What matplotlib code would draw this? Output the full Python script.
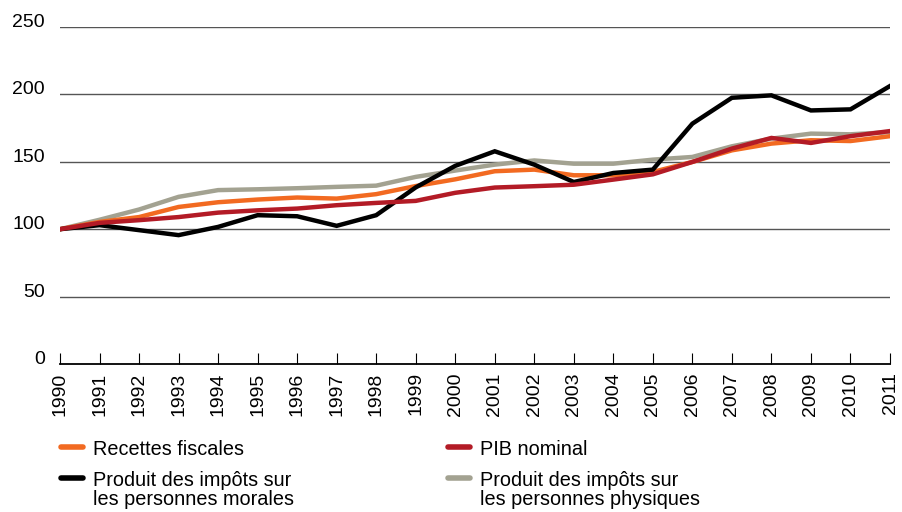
import matplotlib
matplotlib.use("Agg")
from matplotlib import pyplot as plt
from matplotlib.lines import Line2D

plt.rcParams['font.family'] = ['Liberation Sans', 'DejaVu Sans']

years = list(range(1990, 2012))
recettes = [100, 105.4, 109, 116.5, 120, 122, 123.5, 122.7, 126, 132, 137,
            143, 144.2, 140, 140, 142.5, 149.9, 158.5, 163.5, 166, 165.4, 169]
pib = [100, 104.7, 106.7, 109, 112.3, 114, 115.3, 117.8, 119.5, 121, 127,
       130.9, 131.9, 133, 136.8, 140.7, 149.9, 159.8, 167.7, 164, 169, 172.8]
morales = [100, 103, 99.3, 95.6, 101.7, 110.4, 109.6, 102.5, 110.4, 131, 147,
           157.8, 147.9, 135, 141.7, 144.2, 178.3, 197.5, 199.3, 188.1, 188.9, 206.2]
physiques = [100, 107, 114.6, 124, 129, 129.6, 130.4, 131.4, 132.3, 138.8, 143.5,
             147.9, 151, 148.6, 148.6, 151.6, 153.6, 161.5, 167.2, 170.9, 170.4, 172]
yticks = [0, 50, 100, 150, 200, 250]

c_orange = '#F26A21'
c_red = '#B31B26'
c_black = '#000000'
c_grey = '#A3A291'

fig = plt.figure(figsize=(9.02, 5.12), dpi=100)
ax = fig.add_axes([60 / 902, 1 - 364 / 512, 830 / 902, 337 / 512])

lw = 3.2
ax.plot(years, physiques, color=c_grey, lw=lw, solid_joinstyle='miter', zorder=3)
ax.plot(years, recettes, color=c_orange, lw=lw, solid_joinstyle='miter', zorder=4)
ax.plot(years, morales, color=c_black, lw=lw, solid_joinstyle='miter', zorder=5)
ax.plot(years, pib, color=c_red, lw=lw, solid_joinstyle='miter', zorder=6)

ax.set_xlim(1990, 2011)
ax.set_ylim(0, 250)
for v in yticks[1:]:
    ax.axhline(v, color='#555555', lw=1.0, zorder=1)
for s in ['top', 'right', 'left']:
    ax.spines[s].set_visible(False)
ax.spines['bottom'].set_linewidth(1.3)
ax.set_yticks([])
ax.set_xticks(years)
ax.set_xticklabels([str(y) for y in years], rotation=90, fontsize=14)
ax.tick_params(axis='x', direction='in', length=8, width=0.8, pad=6)

for v in yticks:
    ax.annotate(str(v), xy=(0, v), xycoords=('axes fraction', 'data'),
                xytext=(-15, 0), textcoords='offset pixels',
                ha='right', va='baseline', fontsize=14)

# legend
def leg_item(x, y, color, lines):
    fig.add_artist(Line2D([x / 902, (x + 22) / 902], [1 - y / 512, 1 - y / 512],
                          color=color, lw=4, solid_capstyle='round',
                          transform=fig.transFigure))
    for i, t in enumerate(lines):
        fig.text((x + 32) / 902, 1 - (y + 8 + i * 19) / 512, t, fontsize=14.3,
                 va='baseline', ha='left')

leg_item(61, 447, c_orange, ['Recettes fiscales'])
leg_item(448, 447, c_red, ['PIB nominal'])
leg_item(61, 478, c_black, ['Produit des impôts sur', 'les personnes morales'])
leg_item(448, 478, c_grey, ['Produit des impôts sur', 'les personnes physiques'])

fig.savefig('out.png', dpi=100)
